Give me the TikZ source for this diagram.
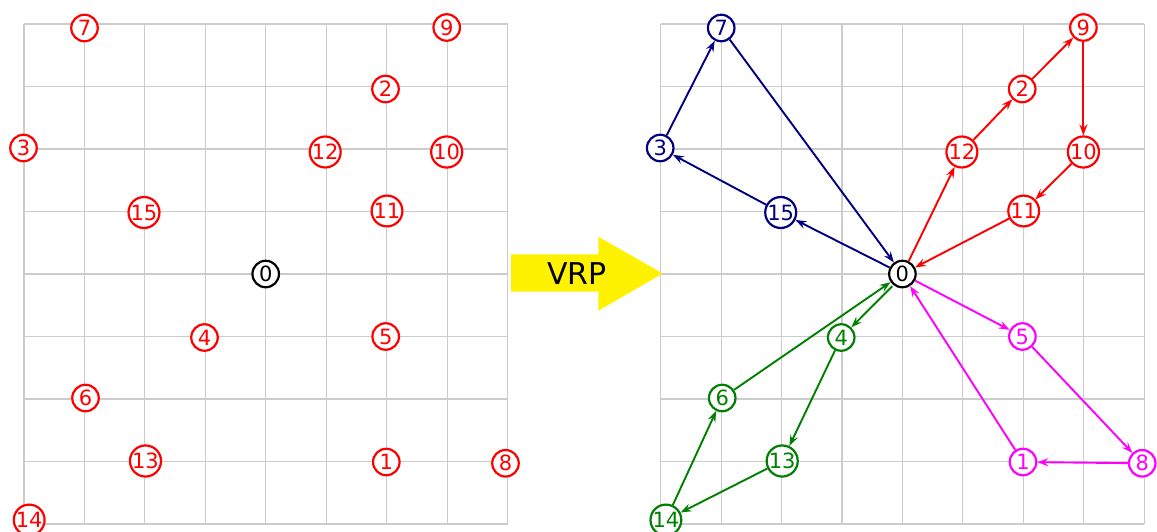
\documentclass[tikz,border=0pt]{standalone}
\usepackage{fontspec}
\setmainfont{DejaVu Sans}
\usetikzlibrary{arrows.meta}
\definecolor{navyc}{RGB}{0,0,128}
\definecolor{greenc}{RGB}{0,128,0}
\definecolor{magc}{RGB}{255,0,255}
\definecolor{redc}{RGB}{255,0,0}
\definecolor{gridc}{RGB}{204,204,204}
\begin{document}
\begin{tikzpicture}[x=1pt,y=-1pt,
  vtx/.style={circle,draw,fill=white,line width=2.2pt,inner sep=0pt,minimum size=26.5pt,font=\fontsize{21}{21}\selectfont},
  rv/.style={vtx,draw=redc,text=redc},
  bv/.style={vtx,draw=black,text=black},
  nv/.style={vtx,draw=navyc,text=navyc},
  gv/.style={vtx,draw=greenc,text=greenc},
  mv/.style={vtx,draw=magc,text=magc},
  edge/.style={line width=1.9pt,-{Stealth[length=11pt,width=8pt,inset=4pt]}},
  gridline/.style={gridc,line width=1.1pt}]
\useasboundingbox (0,0) rectangle (1157,532);
% grids
\foreach \ox in {24,660.7}{
  \foreach \i in {0,...,8}{
    \draw[gridline] ({\ox+\i*60.4375},24) -- ({\ox+\i*60.4375},524);
    \draw[gridline] (\ox,{24+\i*62.5}) -- ({\ox+483.5},{24+\i*62.5});
  }
}
% left nodes
\node[bv] (L0) at (265.7,274) {0};
\foreach \n/\x/\y in {1/386.3/462, 2/385.5/89, 3/23.5/148, 4/204.5/337.5, 5/385.7/336.5,
  6/85.5/398, 7/84.5/28, 8/505.5/463.3, 9/446.7/27.5, 10/446.7/152, 11/387/211,
  12/325.2/152, 13/145.5/461, 14/29.2/520, 15/144/212.5}
  \node[rv] (L\n) at (\x,\y) {\n};
% VRP arrow
\fill[yellow] (511,254.3) -- (598.3,254.3) -- (598.3,236.7) -- (662.7,273.5)
  -- (598.3,310.7) -- (598.3,291.7) -- (511,291.7) -- cycle;
\node[font=\fontsize{30}{30}\selectfont] (vrp) at (577,274) {VRP};
% right nodes
\begin{scope}[xshift=636.7pt]
\node[bv] (R0) at (265.7,274) {0};
\foreach \n/\x/\y/\s in {1/386.3/462/mv, 2/385.5/89/rv, 3/23.5/148/nv, 4/204.5/337.5/gv,
  5/385.7/336.5/mv, 6/85.5/398/gv, 7/84.5/28/nv, 8/505.5/463.3/mv, 9/446.7/27.5/rv,
  10/446.7/152/rv, 11/387/211/rv, 12/325.2/152/rv, 13/145.5/461/gv, 14/29.2/520/gv,
  15/144/212.5/nv}
  \node[\s] (R\n) at (\x,\y) {\n};
\end{scope}
% routes
\draw[edge,navyc] (R0) -- (R15);
\draw[edge,navyc] (R15) -- (R3);
\draw[edge,navyc] (R3) -- (R7);
\draw[edge,navyc] (R7) -- (R0);
\draw[edge,redc] (R0) -- (R12);
\draw[edge,redc] (R12) -- (R2);
\draw[edge,redc] (R2) -- (R9);
\draw[edge,redc] (R9) -- (R10);
\draw[edge,redc] (R10) -- (R11);
\draw[edge,redc] (R11) -- (R0);
\draw[edge,magc] (R0) -- (R5);
\draw[edge,magc] (R5) -- (R8);
\draw[edge,magc] (R8) -- (R1);
\draw[edge,magc] (R1) -- (R0);
\draw[edge,greenc] ([yshift=-2pt]R0.south west) -- (R4);
\draw[edge,greenc] (R4) -- (R13);
\draw[edge,greenc] (R13) -- (R14);
\draw[edge,greenc] (R14) -- (R6);
\draw[edge,greenc] (R6) -- (R0);
\end{tikzpicture}
\end{document}
